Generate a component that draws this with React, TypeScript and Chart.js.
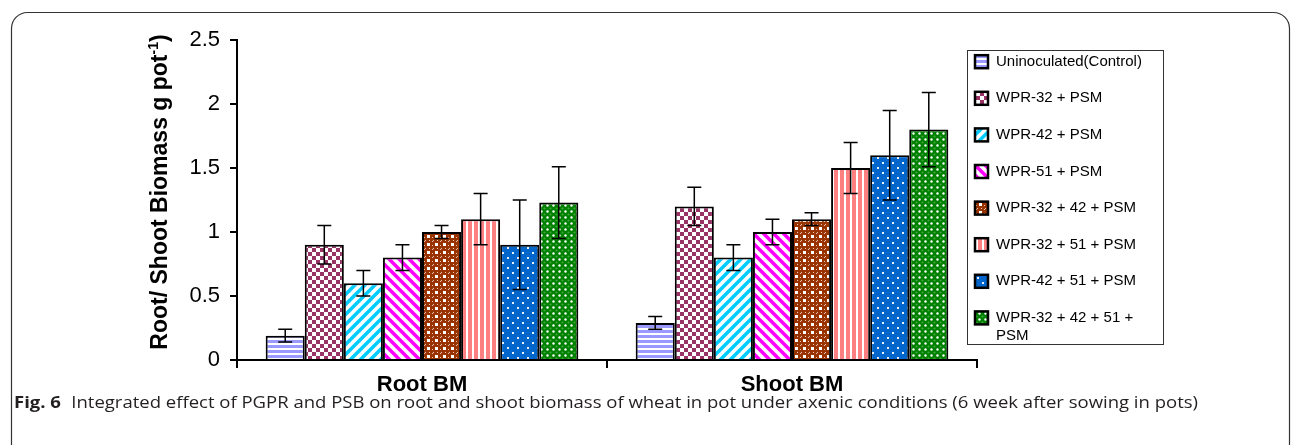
import React, { useEffect, useRef } from "react";
import { Chart, registerables } from "chart.js";

Chart.register(...registerables);

const categories = ["Root BM", "Shoot BM"];
const seriesNames = [
  "Uninoculated(Control)",
  "WPR-32 + PSM",
  "WPR-42 + PSM",
  "WPR-51 + PSM",
  "WPR-32 + 42 + PSM",
  "WPR-32 + 51 + PSM",
  "WPR-42 + 51 + PSM",
  "WPR-32 + 42 + 51 + PSM",
];
const rootValues = [0.19, 0.9, 0.6, 0.8, 1.0, 1.1, 0.9, 1.23];
const rootErrors = [0.05, 0.15, 0.1, 0.1, 0.05, 0.2, 0.35, 0.28];
const shootValues = [0.29, 1.2, 0.8, 1.0, 1.1, 1.5, 1.6, 1.8];
const shootErrors = [0.05, 0.15, 0.1, 0.1, 0.05, 0.2, 0.35, 0.29];
const yMin = 0;
const yMax = 2.5;
const yStep = 0.5;
const yTitleMain = "Root/ Shoot Biomass g pot";
const yTitleSup = "-1";
const yTitleEnd = ")";
const captionBold = "Fig. 6";
const captionText =
  "Integrated effect of PGPR and PSB on root and shoot biomass of wheat in pot under axenic conditions (6 week after sowing in pots)";

const ARIAL = '"Liberation Sans", Arial, sans-serif';

function makePatterns(ctx: CanvasRenderingContext2D): CanvasPattern[] {
  const tile = (w: number, h: number, draw: (g: CanvasRenderingContext2D) => void) => {
    const c = document.createElement("canvas");
    c.width = w;
    c.height = h;
    const g = c.getContext("2d") as CanvasRenderingContext2D;
    draw(g);
    return ctx.createPattern(c, "repeat") as CanvasPattern;
  };
  const p: CanvasPattern[] = [];
  // control: horizontal lavender stripes
  p.push(
    tile(4, 5, (g) => {
      g.fillStyle = "#ffffff";
      g.fillRect(0, 0, 4, 5);
      g.fillStyle = "#9999ff";
      g.fillRect(0, 0, 4, 3);
    })
  );
  // checkerboard maroon
  p.push(
    tile(8, 8, (g) => {
      g.fillStyle = "#ffffff";
      g.fillRect(0, 0, 8, 8);
      g.fillStyle = "#993366";
      g.fillRect(0, 0, 4, 4);
      g.fillRect(4, 4, 4, 4);
    })
  );
  // cyan "/" stripes
  p.push(
    tile(10, 10, (g) => {
      g.fillStyle = "#ffffff";
      g.fillRect(0, 0, 10, 10);
      g.strokeStyle = "#00ccff";
      g.lineWidth = 3.5;
      for (const k of [0, 10, 20]) {
        g.beginPath();
        g.moveTo(k - 12, 12);
        g.lineTo(k + 2, -2);
        g.stroke();
      }
    })
  );
  // magenta "\" stripes
  p.push(
    tile(10, 10, (g) => {
      g.fillStyle = "#ffffff";
      g.fillRect(0, 0, 10, 10);
      g.strokeStyle = "#ff00ff";
      g.lineWidth = 3.5;
      for (const k of [-10, 0, 10]) {
        g.beginPath();
        g.moveTo(k - 2, -2);
        g.lineTo(k + 12, 12);
        g.stroke();
      }
    })
  );
  // brown plaid
  p.push(
    tile(8, 8, (g) => {
      g.fillStyle = "#993300";
      g.fillRect(0, 0, 8, 8);
      g.fillStyle = "#ffffff";
      g.fillRect(3, 3, 3, 3);
      g.fillStyle = "#e8c8b8";
      g.fillRect(1, 0, 1, 1);
      g.fillRect(5, 0, 1, 1);
      g.fillRect(0, 1, 1, 1);
      g.fillRect(0, 5, 1, 1);
    })
  );
  // salmon vertical stripes
  p.push(
    tile(6, 4, (g) => {
      g.fillStyle = "#ff8080";
      g.fillRect(0, 0, 6, 4);
      g.fillStyle = "#ffffff";
      g.fillRect(4, 0, 2, 4);
    })
  );
  // blue with white dots
  p.push(
    tile(10, 10, (g) => {
      g.fillStyle = "#0066cc";
      g.fillRect(0, 0, 10, 10);
      g.fillStyle = "#e8f0ff";
      g.fillRect(2, 2, 2, 2);
      g.fillRect(7, 7, 2, 2);
    })
  );
  // green balls
  p.push(
    tile(6, 6, (g) => {
      g.fillStyle = "#008000";
      g.fillRect(0, 0, 6, 6);
      g.fillStyle = "#ffffff";
      g.beginPath();
      g.arc(1.5, 1.5, 1.2, 0, Math.PI * 2);
      g.fill();
      g.fillStyle = "#3aa63a";
      g.beginPath();
      g.arc(4.5, 4.5, 1.1, 0, Math.PI * 2);
      g.fill();
    })
  );
  return p;
}

export default function App() {
  const ref = useRef<HTMLCanvasElement | null>(null);

  useEffect(() => {
    const canvas = ref.current as HTMLCanvasElement;
    const ctx0 = canvas.getContext("2d") as CanvasRenderingContext2D;
    const patterns = makePatterns(ctx0);

    const datasets = seriesNames.map((name, i) => ({
      label: name,
      data: [rootValues[i], shootValues[i]],
      errors: [rootErrors[i], shootErrors[i]],
      backgroundColor: patterns[i],
      borderColor: "#000000",
      borderWidth: 2,
      barPercentage: 1,
      categoryPercentage: 0.845,
    }));

    const decor = {
      id: "decor",
      beforeDraw(chart: any) {
        const c = chart.ctx;
        c.save();
        c.fillStyle = "#ffffff";
        c.fillRect(0, 0, chart.width, chart.height);
        // outer rounded frame
        const L = 11.5, T = 12.5, R = 1289.5, r = 16;
        c.strokeStyle = "#333333";
        c.lineWidth = 1.2;
        c.beginPath();
        c.moveTo(L, chart.height + 5);
        c.lineTo(L, T + r);
        c.arcTo(L, T, L + r, T, r);
        c.lineTo(R - r, T);
        c.arcTo(R, T, R, T + r, r);
        c.lineTo(R, chart.height + 5);
        c.stroke();
        c.restore();
      },
      afterDatasetsDraw(chart: any) {
        const c = chart.ctx;
        const y = chart.scales.y;
        c.save();
        c.strokeStyle = "#000000";
        c.lineWidth = 1.5;
        chart.data.datasets.forEach((ds: any, i: number) => {
          const meta = chart.getDatasetMeta(i);
          meta.data.forEach((bar: any, j: number) => {
            const v = ds.data[j];
            const e = ds.errors[j];
            const x = bar.x;
            const yt = y.getPixelForValue(v + e);
            const yb = y.getPixelForValue(v - e);
            c.beginPath();
            c.moveTo(x, yt);
            c.lineTo(x, yb);
            c.moveTo(x - 7, yt);
            c.lineTo(x + 7, yt);
            c.moveTo(x - 7, yb);
            c.lineTo(x + 7, yb);
            c.stroke();
          });
        });
        c.restore();
      },
      afterDraw(chart: any) {
        const c = chart.ctx;
        c.save();
        // y-axis title with superscript
        c.translate(161, 192);
        c.rotate(-Math.PI / 2);
        c.fillStyle = "#000000";
        c.textBaseline = "middle";
        c.textAlign = "left";
        const fMain = `bold 23px ${ARIAL}`;
        const fSup = `bold 14px ${ARIAL}`;
        c.font = fMain;
        const w1 = c.measureText(yTitleMain).width;
        const w3 = c.measureText(yTitleEnd).width;
        c.font = fSup;
        const w2 = c.measureText(yTitleSup).width;
        let x = -(w1 + w2 + w3) / 2;
        c.font = fMain;
        c.fillText(yTitleMain, x, 0);
        x += w1;
        c.font = fSup;
        c.fillText(yTitleSup, x, -7);
        x += w2;
        c.font = fMain;
        c.fillText(yTitleEnd, x, 0);
        c.restore();

        // legend
        c.save();
        c.strokeStyle = "#333333";
        c.lineWidth = 1;
        c.strokeRect(967.5, 50.5, 196, 294);
        c.font = `15px ${ARIAL}`;
        c.textBaseline = "middle";
        c.textAlign = "left";
        c.fillStyle = "#000000";
        chart.data.datasets.forEach((ds: any, i: number) => {
          const cy = 61.7 + 36.6 * i;
          c.fillStyle = ds.backgroundColor;
          c.fillRect(975, cy - 6.5, 13, 13);
          c.strokeStyle = "#000000";
          c.lineWidth = 2.5;
          c.strokeRect(975, cy - 6.5, 13, 13);
          c.fillStyle = "#000000";
          const label: string = ds.label;
          if (c.measureText(label).width > 160) {
            const parts = label.split(" ");
            const last = parts.pop() as string;
            c.fillText(parts.join(" "), 996, cy);
            c.fillText(last, 996, cy + 18);
          } else {
            c.fillText(label, 996, cy);
          }
        });
        c.restore();

        // caption
        c.save();
        c.textBaseline = "middle";
        c.textAlign = "left";
        c.fillStyle = "#231f20";
        const fb = `bold 16px "Open Sans", sans-serif`;
        const fn = `16px "Open Sans", sans-serif`;
        c.font = fb;
        const wb = c.measureText(captionBold).width;
        c.font = fn;
        const gap = 9;
        const wn = c.measureText(captionText).width;
        const target = 1198 - 14;
        const s = target / (wb + gap + wn);
        c.translate(14, 403);
        c.scale(s, 1);
        c.font = fb;
        c.fillText(captionBold, 0, 0);
        c.font = fn;
        c.fillText(captionText, wb + gap, 0);
        c.restore();
      },
    };

    const chart = new Chart(ctx0, {
      type: "bar",
      data: { labels: categories, datasets: datasets as any },
      options: {
        animation: false,
        responsive: false,
        devicePixelRatio: 1,
        layout: { padding: { left: 0, top: 40, right: 1293 - 977, bottom: 0 } },
        plugins: { legend: { display: false }, tooltip: { enabled: false } },
        scales: {
          x: {
            afterFit: (s: any) => {
              s.height = 85;
            },
            border: { color: "#000000", width: 2 },
            grid: {
              offset: true,
              drawOnChartArea: false,
              drawTicks: true,
              tickLength: 8,
              color: "#000000",
              lineWidth: 2,
            },
            ticks: {
              color: "#000000",
              padding: 4,
              font: { family: ARIAL, size: 22, weight: "bold" },
            },
          },
          y: {
            min: yMin,
            max: yMax,
            afterFit: (s: any) => {
              s.width = 237;
            },
            border: { color: "#000000", width: 2 },
            grid: {
              drawOnChartArea: false,
              drawTicks: true,
              tickLength: 7,
              color: "#000000",
              lineWidth: 2,
            },
            ticks: {
              stepSize: yStep,
              color: "#000000",
              padding: 10,
              font: { family: ARIAL, size: 22 },
              callback: (v: any) => `${Number(v)}`,
            },
          },
        },
      },
      plugins: [decor],
    });
    return () => chart.destroy();
  }, []);

  return (
    <div style={{ position: "absolute", left: 0, top: 0, width: 1293, height: 445, background: "#fff" }}>
      <canvas ref={ref} width={1293} height={445} style={{ display: "block" }} />
    </div>
  );
}
